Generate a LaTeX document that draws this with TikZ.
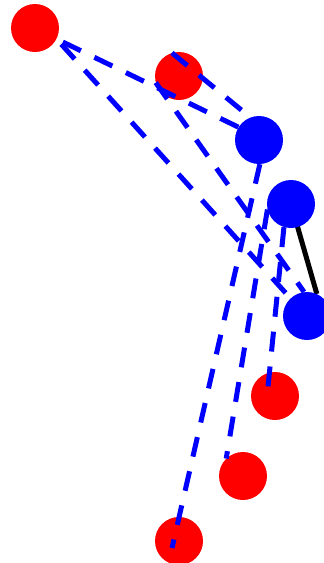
\documentclass[tikz,border=0pt]{standalone}
\usetikzlibrary{calc}
\pgfdeclarelayer{back}
\pgfdeclarelayer{front}
\pgfsetlayers{back,main,front}
\definecolor{dotred}{RGB}{255,0,0}
\definecolor{dotblue}{RGB}{0,0,255}
\tikzset{
    dot/.style={circle, inner sep=0pt, minimum size=48pt},
    reddot/.style={dot, fill=dotred},
    bluedot/.style={dot, fill=dotblue},
    link/.style={draw=dotblue, line width=5pt, dash pattern=on 20pt off 15pt},
    tie/.style={draw=black, line width=5pt}
}

\begin{document}
\begin{tikzpicture}[x=1pt, y=-1pt]

    \useasboundingbox (0,0) rectangle (324,563);

    % Red dots, kept under the dashed links
    \begin{pgfonlayer}{back}
        \node[reddot] (a)  at (35,28)  {};
        \node[reddot] (r2) at (179,76) {};
        \node[reddot] (r3) at (275,396) {};
        \node[reddot] (r4) at (243,476) {};
        \node[reddot] (r5) at (179,541) {};
    \end{pgfonlayer}

    % Blue dots, drawn on top of everything
    \begin{pgfonlayer}{front}
        \node[bluedot] (b1) at (259,140) {};
        \node[bluedot] (b2) at (291,204) {};
        \node[bluedot] (b3) at (307,316) {};
    \end{pgfonlayer}

    % Free ends of the links that stop inside a red dot
    \coordinate (r3-in) at ($(r3)+(-8,1)$);
    \coordinate (r5-in) at ($(r5)+(-7,7)$);

    % Solid tie between the two lower blue dots
    \draw[tie] (b2.center) -- (b3.66);

    % Dashed links
    \draw[link, shorten <=7pt] (a.-27) -- (b1.148);
    \draw[link, shorten <=7pt] (a.-27) -- (b3.133);
    \draw[link] (r2.107) -- (b1.111);
    \draw[link] (r2.196) -- (b3.97);
    \draw[link] (b1.-88) -- (r5-in);
    \draw[link] (b2.193) -- (r4.134);
    \draw[link] (b2.-107) -- (r3-in);

\end{tikzpicture}
\end{document}
